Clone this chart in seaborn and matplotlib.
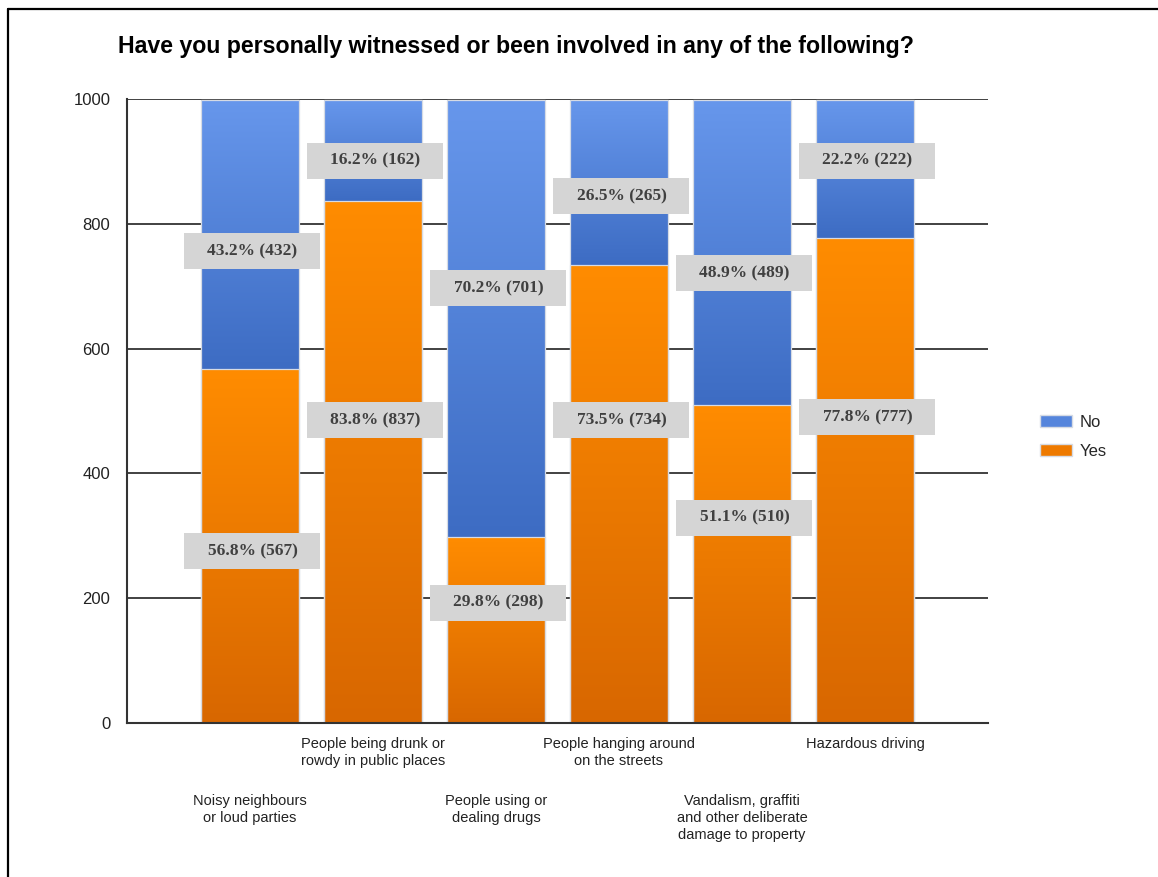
import numpy as np
import pandas as pd
import matplotlib
matplotlib.use("Agg")
import matplotlib.pyplot as plt
import seaborn as sns
from matplotlib.colors import LinearSegmentedColormap
from matplotlib.patches import Patch, Rectangle
from matplotlib.lines import Line2D

# data
categories = [
    "Noisy neighbours\nor loud parties",
    "People being drunk or\nrowdy in public places",
    "People using or\ndealing drugs",
    "People hanging around\non the streets",
    "Vandalism, graffiti\nand other deliberate\ndamage to property",
    "Hazardous driving",
]
no_counts = [432, 162, 701, 265, 489, 222]
yes_counts = [567, 837, 298, 734, 510, 777]
no_pct = [43.2, 16.2, 70.2, 26.5, 48.9, 22.2]
yes_pct = [56.8, 83.8, 29.8, 73.5, 51.1, 77.8]

# where the grey value boxes sit (y, in counts)
no_label_y = [756, 901, 697, 844, 721, 901]
yes_label_y = [275, 485, 193, 485, 329, 490]

y_ticks = [0, 200, 400, 600, 800, 1000]

blue_light, blue_dark = "#6797ec", "#3d6cc3"
orange_light, orange_dark = "#ff8c00", "#d86700"

sns.set_style("white")
plt.rcParams["font.family"] = ["Liberation Sans", "DejaVu Sans"]

df = pd.DataFrame({"category": categories, "No": no_counts, "Yes": yes_counts})
df["total"] = df["No"] + df["Yes"]

fig = plt.figure(figsize=(11.58, 8.77), dpi=100)
ax = fig.add_axes([127 / 1158, 154 / 877, 861 / 1158, 624 / 877])

sns.barplot(data=df, x="category", y="total", color=blue_dark, saturation=1,
            width=0.8, errorbar=None, ax=ax)
sns.barplot(data=df, x="category", y="Yes", color=orange_dark, saturation=1,
            width=0.8, errorbar=None, ax=ax)

n = len(categories)
blue_bars = ax.patches[:n]
orange_bars = ax.patches[n:2 * n]

cmap_blue = LinearSegmentedColormap.from_list("b", [blue_dark, blue_light])
cmap_orange = LinearSegmentedColormap.from_list("o", [orange_dark, orange_light])
grad = np.linspace(0, 1, 256).reshape(-1, 1)

# vertical gradient per segment, clipped to the bar shape
for i in range(n):
    for bar, cm, lo, hi in [
        (blue_bars[i], cmap_blue, df["Yes"][i], df["total"][i]),
        (orange_bars[i], cmap_orange, 0, df["Yes"][i]),
    ]:
        x0 = bar.get_x()
        x1 = x0 + bar.get_width()
        im = ax.imshow(grad, extent=[x0, x1, lo, hi], origin="lower",
                       cmap=cm, aspect="auto", interpolation="bicubic", zorder=2)
        im.set_clip_path(bar)
        bar.set_facecolor("none")
        bar.set_edgecolor("#d6dbe4")
        bar.set_linewidth(0.9)
        bar.set_zorder(3)

# grey value boxes
box_w = 1.106
box_h = 57.7
for i in range(n):
    for y, pct, cnt in [(no_label_y[i], no_pct[i], no_counts[i]),
                        (yes_label_y[i], yes_pct[i], yes_counts[i])]:
        ax.add_patch(Rectangle((i - box_w / 2 + 0.02, y - box_h / 2), box_w, box_h,
                               facecolor="#d5d5d5", edgecolor="none", zorder=4))
        ax.text(i + 0.02, y, f"{pct:.1f}% ({cnt})", ha="center", va="center",
                family=["Liberation Serif", "DejaVu Serif"], fontweight="bold",
                fontsize=12.5, color="#404040", zorder=5)

ax.set_xlim(-1, n)
ax.set_ylim(0, 1000)
ax.set_aspect("auto")

ax.set_yticks(y_ticks)
ax.set_yticklabels([str(v) for v in y_ticks], fontsize=12, color="#222222")
ax.yaxis.grid(True, color="#333333", linewidth=1.3)
ax.set_axisbelow(True)

ax.set_xticks(range(-1, n + 1))
ax.set_xticklabels([""] + categories + [""], fontsize=10.5, color="#222222",
                   linespacing=1.3)
for k, tick in enumerate(ax.xaxis.get_major_ticks()):
    # alternate rows: odd categories drop lower
    tick.set_pad(44 if k % 2 == 1 else 3)

ax.tick_params(axis="y", direction="out", length=9, width=1.3, color="#333333", pad=3)
ax.tick_params(axis="x", direction="out", length=7, width=1.3, color="#333333")
ax.set_xlabel("")
ax.set_ylabel("")

for s in ["top", "right"]:
    ax.spines[s].set_visible(False)
for s in ["left", "bottom"]:
    ax.spines[s].set_color("#333333")
    ax.spines[s].set_linewidth(1.5)
    ax.spines[s].set_zorder(6)

handles = [Patch(facecolor="#5585dc", edgecolor="#d6dbe4", label="No"),
           Patch(facecolor="#ee7a00", edgecolor="#d6dbe4", label="Yes")]
fig.legend(handles=handles, loc="center left",
           bbox_to_anchor=(1040 / 1158, 1 - 437 / 877), frameon=False,
           fontsize=12, handlelength=1.9, handleheight=0.7, handletextpad=0.45,
           labelspacing=0.85, borderpad=0, borderaxespad=0)

fig.text(118 / 1158, 1 - 53 / 877,
         "Have you personally witnessed or been involved in any of the following?",
         ha="left", va="baseline", fontsize=16.7, fontweight="bold", color="black")

# outer frame (left and top edges visible)
fig.add_artist(Line2D([8 / 1158, 8 / 1158], [0, 1 - 9 / 877],
                      transform=fig.transFigure, color="black", linewidth=1.6))
fig.add_artist(Line2D([8 / 1158, 1], [1 - 9 / 877, 1 - 9 / 877],
                      transform=fig.transFigure, color="black", linewidth=1.6))

fig.savefig("out.png", dpi=100)
